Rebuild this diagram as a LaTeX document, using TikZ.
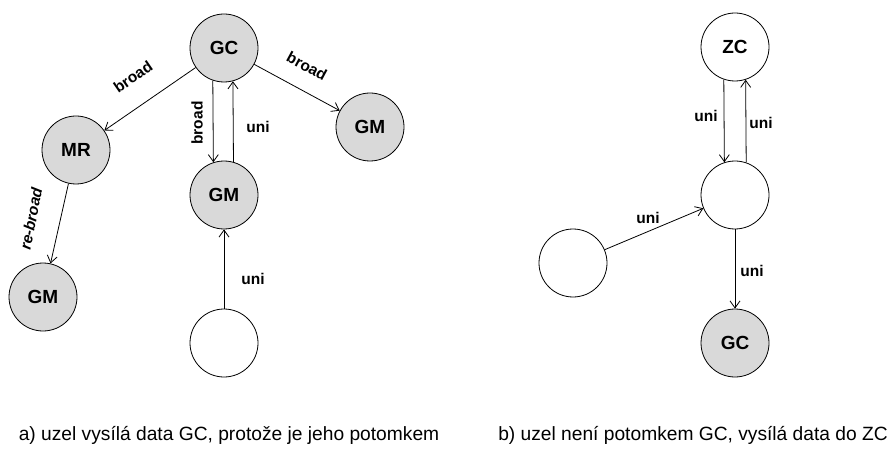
\documentclass[tikz,border=0pt]{standalone}
\usepackage{fontspec}
\setmainfont{Liberation Sans}
\usetikzlibrary{arrows.meta}
\definecolor{nodegray}{HTML}{D9D9D9}
\begin{document}
\begin{tikzpicture}[x=1pt,y=-1pt,
  vertex/.style={circle, draw, line width=0.8pt, minimum size=68pt, inner sep=0pt,
    font=\fontsize{19}{19}\selectfont\bfseries},
  group/.style={vertex, fill=nodegray},
  plain/.style={vertex, fill=white},
  link/.style={line width=0.8pt, -{Straight Barb[length=7pt,width=10pt]}},
  lbl/.style={font=\fontsize{15.5}{15.5}\selectfont\bfseries, inner sep=0pt},
  caption/.style={font=\fontsize{19.2}{19.2}\selectfont, inner sep=0pt, anchor=base}]
\useasboundingbox (0,0) rectangle (890,454);

% ---- a) broadcast tree rooted at GC ----
\node[group] (gc)  at (224,48)  {GC};
\node[group] (mr)  at (76,150)  {MR};
\node[group] (gmc) at (224,195) {GM};
\node[group] (gmr) at (370,127) {GM};
\node[group] (gml) at (43,297)  {GM};
\node[plain] (src) at (224,343) {};

\draw[link] (gc) -- (mr);
\draw[link] (gc) -- (gmr);
\draw[link] (mr) -- (gml);
\draw[link] (gc.251.1) -- (gmc.108.9);
\draw[link] (gmc.74.7) -- (gc.285.3);
\draw[link] (src) -- (gmc);

\node[lbl, rotate=34.6]  (l1) at (133,77)  {broad};
\node[lbl, rotate=-28.4] (l2) at (307,66)  {broad};
\node[lbl, rotate=90]    (l3) at (197,123) {broad};
\node[lbl]               (l4) at (258,127) {uni};
\node[lbl, rotate=79]    (l5) at (31,219)  {\itshape re-broad};
\node[lbl]               (l6) at (253,279) {uni};

\node[caption] (capa) at (229,440) {a) uzel vysílá data GC, protože je jeho potomkem};

% ---- b) node outside the GC tree sends data to ZC ----
\node[plain] (zc)  at (735,47)  {ZC};
\node[plain] (mid) at (735,195) {};
\node[plain] (lft) at (573,263) {};
\node[group] (gc2) at (735,343) {GC};

\draw[link] (zc.251.1) -- (mid.108.9);
\draw[link] (mid.71.1) -- (zc.288.9);
\draw[link] (lft) -- (mid);
\draw[link] (mid) -- (gc2);

\node[lbl] (r1) at (706,116) {uni};
\node[lbl] (r2) at (761,123) {uni};
\node[lbl] (r3) at (648,218) {uni};
\node[lbl] (r4) at (752,271) {uni};

\node[caption] (capb) at (693,440) {b) uzel není potomkem GC, vysílá data do ZC};
\end{tikzpicture}
\end{document}
